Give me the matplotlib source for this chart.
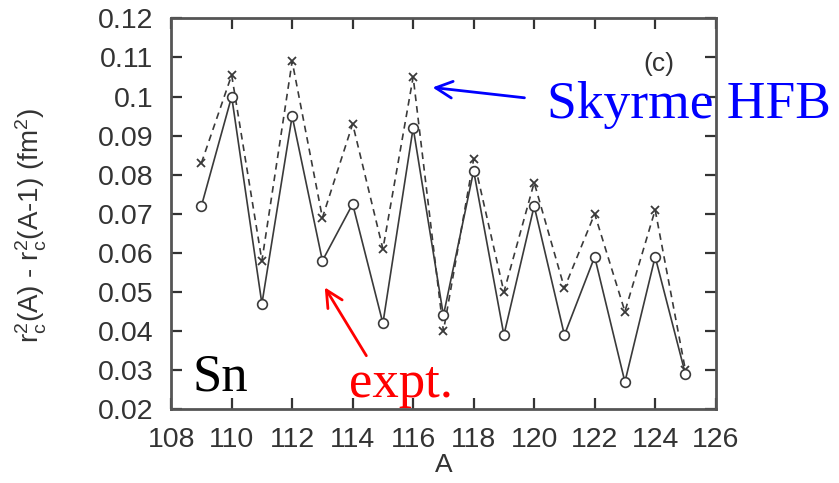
import matplotlib
matplotlib.use("Agg")
import matplotlib.pyplot as plt
import numpy as np

# mass number A and isotope shift differences (fm^2)
A = np.arange(109, 126)
expt = [0.072, 0.100, 0.047, 0.095, 0.058, 0.0725, 0.042, 0.092, 0.044,
        0.081, 0.039, 0.072, 0.039, 0.059, 0.027, 0.059, 0.029]
skyrme = [0.083, 0.1055, 0.058, 0.109, 0.069, 0.093, 0.061, 0.105, 0.040,
          0.084, 0.050, 0.078, 0.051, 0.070, 0.045, 0.071, 0.030]

xticks = np.arange(108, 127, 2)
yticks = np.round(np.arange(0.02, 0.1201, 0.01), 2)
ylabels = ["0.02", "0.03", "0.04", "0.05", "0.06", "0.07", "0.08", "0.09", "0.1", "0.11", "0.12"]

plt.rcParams['font.family'] = 'Liberation Sans'
plt.rcParams['mathtext.fontset'] = 'custom'
plt.rcParams['mathtext.rm'] = 'Liberation Sans'
plt.rcParams['mathtext.it'] = 'Liberation Sans'

fig = plt.figure(figsize=(8.39, 4.83), dpi=100)
ax = fig.add_axes([0.204, 0.1526, 0.649, 0.8094])

lc = '#3a3a3a'
ax.plot(A, skyrme, linestyle='--', color=lc, lw=1.2, marker='x', ms=6, mew=1.3, dashes=(4, 3))
ax.plot(A, expt, linestyle='-', color=lc, lw=1.2, marker='o', ms=7, mfc='white', mec=lc, mew=1.2)

ax.set_xlim(108, 126)
ax.set_ylim(0.02, 0.12)
ax.set_xticks(xticks)
ax.set_yticks(yticks)
ax.set_yticklabels(ylabels)
ax.tick_params(direction='in', length=8, width=1.6, top=True, right=True,
               labelsize=20.5, colors='#333333')
ax.tick_params(axis='x', pad=13)
ax.tick_params(axis='y', pad=13)
for s in ax.spines.values():
    s.set_linewidth(2)
    s.set_color('#555555')

ax.set_xlabel('A', fontsize=19, color='#333333', labelpad=0)
ax.set_ylabel(r'r$_\mathregular{c}^\mathregular{2}$(A) - r$_\mathregular{c}^\mathregular{2}$(A-1) (fm$^\mathregular{2}$)',
              fontsize=20, color='#333333')
ax.yaxis.set_label_coords(-0.225, 0.47)

ax.text(123.6, 0.1065, '(c)', fontsize=19, color='#333333')

serif = 'Liberation Serif'
ax.text(120.44, 0.0945, 'Skyrme HFB', fontsize=38.5, color='blue', family=serif, clip_on=False)
ax.annotate('', xy=(116.55, 0.1024), xytext=(119.77, 0.0996),
            arrowprops=dict(arrowstyle='->', color='blue', lw=2, mutation_scale=30))
ax.text(108.72, 0.0249, 'Sn', fontsize=38, color='black', family=serif)
ax.text(113.87, 0.0231, 'expt.', fontsize=38, color='red', family=serif)
ax.annotate('', xy=(113.03, 0.0518), xytext=(114.5, 0.0331),
            arrowprops=dict(arrowstyle='->', color='red', lw=2, mutation_scale=30))

fig.savefig('out.png', dpi=100)
